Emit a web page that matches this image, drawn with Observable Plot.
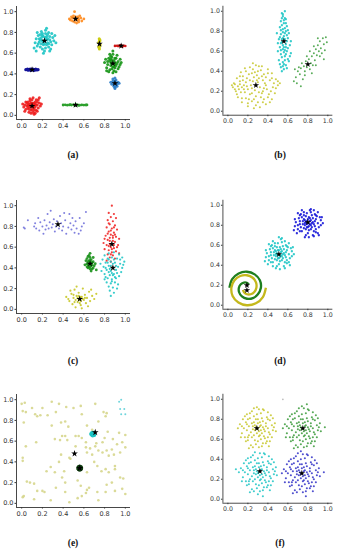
<!DOCTYPE html>
<html><head><meta charset="utf-8">
<script src="https://cdn.jsdelivr.net/npm/d3@7"></script>
<script src="https://cdn.jsdelivr.net/npm/@observablehq/plot@0.6"></script>
<style>
body{margin:0;background:#fff;}
#root{position:relative;width:342px;height:550px;overflow:hidden;background:#fff;}
.p{position:absolute;}
.cap{position:absolute;font-family:"Liberation Serif",serif;font-size:9.5px;font-weight:bold;transform:translate(-50%,-50%);color:#111;white-space:nowrap;}
</style></head><body><div id="root"></div>
<script>
// ---------- tick labels ----------
const tickValues = [0, 0.2, 0.4, 0.6, 0.8, 1.0];
const captions = ["(a)", "(b)", "(c)", "(d)", "(e)", "(f)"];

// ---------- panel (a) ----------
const aRed = [[.10,.09],[.07,.11],[.13,.08],[.09,.05],[.12,.12],[.05,.09],[.15,.10],[.08,.14],[.11,.03],[.04,.06],[.14,.05],[.06,.13],[.17,.12],[.03,.10],[.10,.15],[.12,.07],[.08,.08],[.11,.11],[.09,.12],[.13,.13],[.06,.07],[.16,.07],[.02,.08],[.07,.03],[.14,.15],[.10,.06],[.12,.10],[.08,.11],[.05,.12],[.15,.13],[.09,.02],[.18,.09],[.11,.17],[.04,.13],[.13,.02],[.07,.06],[.10,.12],[.12,.05],[.06,.10],[.16,.15],[.08,.16],[.01,.11],[.19,.11],[.14,.10],[.09,.09],[.11,.08],[.07,.09],[.13,.11],[.15,.04],[.03,.04],[.17,.17],[.12,.01]];
const aCyan = [[.22,.72],[.19,.75],[.25,.70],[.21,.68],[.24,.76],[.17,.71],[.27,.73],[.20,.79],[.23,.65],[.15,.67],[.29,.68],[.18,.78],[.26,.80],[.14,.74],[.30,.75],[.22,.62],[.19,.69],[.24,.73],[.21,.76],[.26,.66],[.16,.77],[.28,.71],[.13,.70],[.23,.82],[.20,.64],[.25,.78],[.18,.66],[.31,.72],[.17,.74],[.27,.76],[.22,.69],[.20,.72],[.24,.68],[.19,.81],[.12,.65],[.28,.64],[.23,.79],[.15,.80],[.32,.77],[.21,.60],[.26,.69],[.18,.73],[.25,.74],[.21,.71],[.29,.79],[.16,.69],[.24,.84],[.33,.70],[.14,.62],[.20,.77],[.27,.62],[.23,.75]];
const aNavy = [[.04,.441],[.055,.445],[.062,.436],[.071,.443],[.083,.447],[.09,.434],[.10,.44],[.108,.446],[.117,.437],[.128,.442],[.136,.446],[.145,.438],[.158,.441],[.095,.443],[.112,.44],[.077,.439],[.124,.435]];
const aOrange = [[.52,.93],[.49,.94],[.55,.92],[.51,.90],[.54,.95],[.47,.92],[.57,.94],[.50,.96],[.53,.89],[.58,.91],[.46,.93],[.56,.96],[.52,.95],[.49,.91],[.55,.90],[.51,.935],[.60,.93],[.48,.95],[.53,.92],[.51,1.00],[.545,.935]];
const aGreenLine = [[.40,.10],[.42,.102],[.44,.098],[.46,.101],[.48,.099],[.50,.103],[.51,.097],[.53,.10],[.54,.102],[.56,.098],[.58,.101],[.60,.099],[.62,.10],[.63,.101],[.47,.104],[.55,.096],[.52,.10]];
const aYellow = [[.75,.69],[.745,.66],[.755,.72],[.75,.64],[.748,.74],[.752,.67],[.743,.70],[.757,.68],[.75,.715],[.746,.655],[.754,.73]];
const aRedSmall = [[.90,.67],[.92,.672],[.93,.668],[.945,.671],[.955,.669],[.965,.673],[.975,.667],[.985,.671],[1.0,.669],[.95,.675],[.97,.665]];
const aGreen = [[.88,.50],[.85,.53],[.91,.48],[.87,.45],[.90,.55],[.83,.49],[.93,.52],[.86,.57],[.89,.43],[.82,.46],[.94,.47],[.84,.55],[.92,.58],[.80,.51],[.95,.54],[.88,.41],[.86,.48],[.90,.51],[.87,.53],[.89,.47],[.85,.44],[.91,.55],[.83,.52],[.93,.45],[.88,.59],[.86,.51],[.90,.46],[.84,.42],[.92,.50],[.87,.56],[.89,.53],[.81,.54],[.95,.49],[.88,.62],[.85,.59],[.91,.42],[.96,.51],[.82,.43],[.88,.47],[.86,.54],[.90,.49],[.87,.50]];
const aSteel = [[.90,.31],[.88,.33],[.92,.30],[.89,.28],[.91,.34],[.87,.30],[.93,.32],[.90,.27],[.88,.35],[.92,.28],[.89,.32],[.91,.29],[.90,.36],[.86,.32],[.94,.31],[.90,.33],[.89,.30],[.91,.31],[.90,.26]];
const aStars = [[.10,.09],[.22,.72],[.10,.44],[.52,.93],[.52,.10],[.75,.69],[.96,.67],[.88,.50],[.90,.31]];

// ---------- panel (b) ----------
const bYellow = [[.28,.26],[.10,.25],[.12,.30],[.08,.20],[.15,.35],[.18,.40],[.22,.44],[.28,.46],[.34,.45],[.40,.42],[.44,.38],[.48,.32],[.50,.26],[.47,.18],[.44,.12],[.38,.07],[.32,.04],[.26,.03],[.20,.05],[.14,.09],[.10,.14],[.07,.22],[.06,.28],[.09,.33],[.13,.39],[.19,.33],[.24,.38],[.30,.40],[.36,.37],[.42,.31],[.45,.24],[.41,.17],[.36,.12],[.30,.09],[.24,.10],[.18,.13],[.13,.19],[.16,.26],[.20,.22],[.25,.30],[.31,.33],[.37,.28],[.39,.22],[.34,.18],[.28,.15],[.22,.17],[.18,.29],[.23,.26],[.27,.21],[.32,.24],[.35,.31],[.29,.36],[.21,.37],[.15,.31],[.11,.22],[.17,.19],[.26,.12],[.33,.14],[.40,.14],[.43,.20],[.46,.28],[.38,.34],[.33,.41],[.25,.42],[.17,.43],[.12,.35],[.07,.27],[.05,.24],[.09,.17],[.14,.13],[.20,.08],[.28,.06],[.35,.09],[.42,.09],[.48,.23],[.40,.38],[.26,.34],[.30,.29],[.24,.23],[.19,.25],[.14,.24],[.31,.19],[.36,.23],[.22,.31],[.27,.39],[.34,.35],[.12,.27],[.16,.22],[.38,.26],[.44,.33],[.50,.30],[.21,.12],[.31,.45],[.24,.18],[.29,.31],[.35,.20],[.04,.26],[.25,.48],[.52,.28]];
const bCyan = [[.56,.70],[.54,.98],[.57,1.00],[.55,.95],[.58,.92],[.53,.90],[.56,.88],[.59,.85],[.52,.84],[.55,.82],[.58,.80],[.61,.78],[.53,.77],[.56,.75],[.60,.73],[.51,.72],[.54,.69],[.58,.67],[.62,.66],[.52,.64],[.55,.62],[.59,.60],[.63,.58],[.53,.57],[.57,.55],[.60,.52],[.51,.51],[.55,.49],[.58,.46],[.53,.44],[.56,.42],[.54,.40],[.57,.93],[.54,.86],[.57,.83],[.55,.79],[.59,.76],[.52,.74],[.57,.72],[.55,.66],[.60,.63],[.50,.60],[.56,.59],[.58,.57],[.54,.54],[.61,.50],[.56,.47],[.52,.47],[.59,.43],[.55,.97],[.56,.91],[.53,.81],[.60,.81],[.57,.78],[.54,.72],[.59,.70],[.56,.64],[.53,.61],[.57,.51],[.55,.45],[.62,.55],[.50,.68],[.58,.88],[.54,.93],[.63,.70],[.49,.78],[.57,.61],[.55,.73],[.58,.64],[.53,.68]];
const bGreen = [[.80,.47],[.66,.30],[.68,.34],[.70,.40],[.72,.37],[.73,.43],[.75,.32],[.76,.45],[.77,.40],[.78,.50],[.79,.44],[.81,.52],[.82,.42],[.83,.48],[.84,.55],[.85,.46],[.86,.58],[.87,.51],[.88,.62],[.89,.56],[.90,.66],[.91,.60],[.92,.70],[.93,.63],[.94,.58],[.95,.73],[.96,.67],[.97,.61],[.98,.74],[.99,.69],[.74,.48],[.71,.44],[.69,.28],[.77,.36],[.84,.38],[.88,.46],[.82,.60],[.86,.65],[.92,.55],[.96,.52],[.79,.55],[.73,.25],[.67,.42],[.90,.73]];
const bStars = [[.28,.26],[.56,.70],[.80,.47]];

// ---------- panel (c) ----------
const cPurple = [[.02,.79],[.03,.78],[.06,.86],[.12,.80],[.14,.78],[.13,.83],[.17,.76],[.18,.84],[.20,.80],[.21,.73],[.22,.86],[.24,.81],[.25,.92],[.26,.78],[.27,.84],[.28,.95],[.29,.79],[.30,.82],[.31,.87],[.32,.75],[.33,.80],[.34,.85],[.35,.82],[.36,.78],[.37,.90],[.38,.83],[.39,.76],[.40,.80],[.42,.86],[.43,.73],[.45,.79],[.46,.92],[.47,.83],[.48,.77],[.50,.81],[.51,.74],[.52,.85],[.53,.78],[.55,.73],[.56,.88],[.58,.80],[.60,.83],[.62,.94],[.49,.88],[.23,.77],[.16,.88],[.41,.93],[.57,.76]];
const cRed = [[.87,1.00],[.84,.93],[.89,.92],[.86,.89],[.91,.88],[.83,.86],[.88,.85],[.85,.82],[.90,.81],[.82,.79],[.87,.78],[.92,.77],[.84,.75],[.89,.74],[.86,.72],[.81,.71],[.91,.70],[.88,.69],[.83,.67],[.85,.66],[.90,.65],[.87,.63],[.82,.62],[.93,.62],[.86,.60],[.89,.59],[.80,.58],[.84,.57],[.91,.56],[.87,.55],[.83,.53],[.88,.52],[.85,.50],[.90,.49],[.82,.47],[.86,.46],[.94,.54],[.79,.64],[.88,.66],[.85,.69],[.90,.72],[.83,.73],[.86,.76],[.89,.79],[.84,.83],[.87,.58],[.92,.60],[.80,.68],[.94,.68],[.86,.53],[.89,.62],[.84,.61],[.88,.71],[.85,.63]];
const cCyan = [[.88,.40],[.80,.52],[.84,.54],[.89,.55],[.94,.53],[.97,.50],[.78,.48],[.83,.49],[.87,.50],[.92,.49],[.99,.46],[.76,.44],[.81,.45],[.86,.46],[.90,.45],[.95,.44],[.79,.41],[.84,.42],[.93,.41],[.97,.40],[.77,.37],[.82,.38],[.86,.37],[.91,.38],[.96,.36],[.80,.34],[.85,.33],[.89,.34],[.94,.32],[.83,.30],[.87,.29],[.91,.30],[.82,.26],[.86,.25],[.90,.26],[.84,.22],[.88,.21],[.85,.18],[.89,.16],[.86,.13],[.93,.24],[.81,.31],[.95,.48],[.88,.44],[.85,.39],[.91,.42],[.87,.35],[.83,.45],[.89,.48],[.92,.35],[.84,.36],[.90,.31],[.87,.27],[.86,.42],[.81,.40],[.98,.43],[.88,.33],[.92,.20],[.80,.29],[.84,.48]];
const cGreen = [[.66,.44],[.64,.46],[.68,.43],[.65,.41],[.67,.48],[.63,.44],[.69,.46],[.66,.50],[.64,.40],[.68,.39],[.62,.47],[.70,.42],[.65,.52],[.67,.37],[.63,.49],[.69,.50],[.66,.47],[.65,.44],[.67,.42],[.64,.43],[.68,.45],[.66,.41],[.61,.43],[.71,.44],[.66,.54],[.72,.38],[.65,.47],[.67,.45],[.63,.41],[.69,.40],[.64,.51],[.66,.39]];
const cYellow = [[.56,.10],[.43,.12],[.46,.08],[.48,.15],[.49,.05],[.50,.11],[.51,.19],[.52,.02],[.53,.13],[.54,.07],[.55,.16],[.57,.04],[.58,.12],[.59,.20],[.60,.09],[.61,.14],[.62,.06],[.63,.11],[.65,.17],[.66,.08],[.68,.13],[.70,.10],[.72,.15],[.52,.09],[.54,.11],[.57,.08],[.55,.13],[.59,.10],[.53,.22],[.47,.18],[.64,.03],[.58,.01],[.50,.14],[.61,.11],[.56,.06],[.45,.10],[.67,.19],[.55,.09],[.57,.12],[.51,.07]];
const cStars = [[.35,.82],[.87,.63],[.88,.40],[.66,.44],[.56,.10]];

// ---------- panel (d) ----------
const dBlue = [[.80,.82],[.77,.85],[.83,.80],[.79,.78],[.82,.87],[.75,.81],[.85,.83],[.78,.89],[.81,.75],[.73,.78],[.87,.79],[.76,.86],[.84,.90],[.72,.84],[.88,.86],[.80,.72],[.74,.74],[.86,.74],[.79,.92],[.83,.93],[.70,.80],[.90,.82],[.77,.80],[.82,.84],[.80,.86],[.78,.83],[.84,.78],[.76,.77],[.81,.79],[.85,.87],[.79,.81],[.83,.85],[.74,.88],[.87,.91],[.71,.87],[.91,.78],[.68,.83],[.93,.85],[.78,.70],[.85,.70],[.76,.93],[.82,.95],[.89,.89],[.73,.91],[.95,.82],[.67,.79],[.81,.68],[.86,.81],[.75,.84],[.80,.78],[.82,.81],[.79,.84],[.77,.82],[.84,.82],[.81,.88],[.78,.76],[.88,.76],[.72,.81],[.90,.72],[.70,.76],[.83,.76],[.87,.84],[.76,.90],[.86,.95],[.92,.88],[.72,.90],[.88,.90],[.72,.74],[.88,.73],[.70,.92],[.90,.93],[.69,.72],[.91,.70],[.74,.95],[.86,.69],[.67,.86],[.93,.80],[.77,.68],[.83,.96],[.66,.75],[.94,.88]];
const dCyan = [[.51,.51],[.48,.54],[.54,.49],[.50,.47],[.53,.56],[.46,.50],[.56,.52],[.49,.58],[.52,.44],[.44,.47],[.58,.48],[.47,.55],[.55,.59],[.43,.53],[.59,.55],[.51,.41],[.45,.43],[.57,.43],[.50,.62],[.54,.63],[.41,.49],[.61,.51],[.48,.49],[.53,.53],[.51,.55],[.49,.52],[.55,.47],[.47,.46],[.52,.48],[.56,.56],[.50,.50],[.54,.54],[.45,.57],[.58,.60],[.42,.56],[.62,.47],[.39,.52],[.64,.54],[.49,.39],[.56,.39],[.47,.62],[.53,.66],[.60,.58],[.44,.60],[.66,.51],[.38,.48],[.52,.36],[.57,.50],[.46,.53],[.51,.47],[.53,.50],[.50,.55],[.48,.51],[.55,.51],[.52,.58],[.49,.45],[.59,.45],[.43,.50],[.61,.43],[.41,.45],[.54,.45],[.58,.53],[.47,.59],[.57,.64],[.63,.57],[.51,.68],[.45,.39],[.43,.59],[.59,.59],[.43,.43],[.59,.42],[.41,.61],[.61,.62],[.40,.41],[.62,.40],[.45,.64],[.57,.37],[.38,.55],[.64,.49],[.48,.37],[.54,.67],[.37,.44],[.65,.58]];
const dSpiralGreen = [[.015,.175],[.043,.26],[.107,.318],[.19,.335],[.268,.309],[.32,.25],[.33,.175],[.30,.11],[.25,.071],[.19,.065],[.14,.088],[.112,.13],[.11,.175],[.129,.21],[.16,.227],[.19,.225],[.21,.21]];
const dSpiralYellow = [[.38,.175],[.35,.082],[.28,.019],[.19,.0],[.105,.028],[.047,.093],[.035,.175],[.064,.248],[.123,.292],[.19,.30],[.248,.275],[.281,.228],[.285,.175],[.264,.133],[.228,.11],[.19,.11],[.163,.127],[.151,.153]];
const dStars = [[.80,.83],[.51,.51],[.19,.20],[.19,.15]];

// ---------- panel (e) ----------
const eNoise = [[.00,.96],[.03,.97],[.01,.89],[.04,.88],[.02,.78],[.13,.86],[.15,.84],[.20,.92],[.29,.98],[.36,.96],[.38,.78],[.43,.93],[.50,.92],[.57,.94],[.58,.86],[.71,.96],[.79,.88],[.81,.84],[.74,.79],[.29,.75],[.42,.79],[.63,.75],[.04,.55],[.14,.59],[.32,.62],[.39,.65],[.42,.65],[.55,.65],[.58,.63],[.62,.59],[.71,.55],[.78,.59],[.82,.51],[.87,.52],[.92,.57],[.95,.49],[.97,.59],[1.0,.54],[.89,.47],[.84,.46],[.78,.49],[.74,.51],[.01,.44],[.01,.41],[.38,.47],[.46,.44],[.47,.43],[.63,.49],[.68,.47],[.28,.35],[.32,.30],[.24,.31],[.41,.31],[.39,.25],[.42,.20],[.54,.22],[.63,.30],[.73,.36],[.77,.31],[.81,.33],[.84,.30],[.90,.33],[.90,.36],[.95,.25],[.98,.24],[.05,.21],[.12,.19],[.01,.06],[.02,.07],[.15,.12],[.20,.12],[.22,.11],[.28,.03],[.46,.01],[.54,.05],[.62,.10],[.63,.13],[.65,.15],[.73,.11],[.74,.03],[.81,.11],[.82,.18],[.90,.12],[1.0,.09],[.97,.14],[.87,.20],[.58,.07],[.57,.17],[.33,.15],[.42,.11],[.62,.54],[.66,.53],[.72,.58],[.52,.55],[.44,.61],[.25,.85],[.33,.88],[.08,.20],[.12,.04],[.36,.40],[.70,.40],[.80,.63],[.88,.62],[.94,.68],[1.0,.66],[.83,.69],[.68,.71],[.52,.65],[.45,.74],[.37,.61],[.18,.85],[.10,.92],[.82,.87]];
const eCyan = [[.68,.67],[.69,.66],[.70,.67],[.69,.68],[.68,.66],[.70,.66],[.67,.67],[.69,.67],[.68,.68],[.70,.68],[.685,.655],[.695,.675]];
const eCyanCorner = [[.94,.98],[.96,1.0],[.95,.91],[.99,.91],[.96,.86],[1.0,.86]];
const eDarkGreen = [[.56,.34],[.55,.35],[.57,.35],[.55,.33],[.57,.33],[.56,.355],[.56,.325],[.545,.34],[.575,.34]];
const eStars = [[.51,.48],[.71,.685],[.56,.34]];

// ---------- panel (f) ----------
const fYellow = [[.30,.71],[.27,.74],[.33,.69],[.29,.66],[.32,.77],[.25,.70],[.35,.72],[.28,.80],[.31,.63],[.23,.67],[.37,.68],[.26,.77],[.34,.81],[.21,.73],[.38,.76],[.30,.58],[.24,.62],[.36,.63],[.29,.85],[.33,.86],[.19,.69],[.40,.71],[.27,.69],[.32,.73],[.30,.76],[.28,.72],[.34,.66],[.26,.64],[.31,.68],[.35,.78],[.29,.70],[.33,.74],[.22,.81],[.39,.82],[.18,.77],[.42,.65],[.16,.71],[.44,.74],[.28,.55],[.35,.56],[.24,.88],[.31,.90],[.40,.87],[.20,.59],[.45,.69],[.14,.66],[.31,.52],[.37,.61],[.25,.73],[.30,.80],[.21,.64],[.26,.83],[.36,.70],[.42,.79],[.17,.62],[.47,.76],[.12,.75],[.23,.54],[.39,.58],[.33,.60],[.27,.59],[.19,.85],[.36,.89],[.44,.62],[.10,.71],[.48,.68],[.29,.92],[.32,.64],[.24,.76],[.38,.73],[.15,.80],[.21,.51],[.41,.53],[.20,.80],[.40,.80],[.20,.62],[.40,.62],[.17,.83],[.43,.84],[.18,.58],[.42,.58],[.22,.86],[.38,.56],[.14,.73],[.46,.72],[.25,.52],[.35,.90],[.13,.62],[.45,.81],[.19,.75],[.41,.67],[.34,.53],[.26,.91]];
const fGreen = [[.75,.71],[.72,.74],[.78,.69],[.74,.66],[.77,.77],[.70,.70],[.80,.72],[.73,.80],[.76,.63],[.68,.67],[.82,.68],[.71,.77],[.79,.81],[.66,.73],[.83,.76],[.75,.58],[.69,.62],[.81,.63],[.74,.85],[.78,.86],[.64,.69],[.85,.71],[.72,.69],[.77,.73],[.75,.76],[.73,.72],[.79,.66],[.71,.64],[.76,.68],[.80,.78],[.74,.70],[.78,.74],[.67,.81],[.84,.82],[.63,.77],[.87,.65],[.61,.71],[.89,.74],[.73,.55],[.80,.56],[.69,.88],[.76,.91],[.85,.87],[.65,.59],[.90,.69],[.59,.66],[.76,.52],[.82,.61],[.70,.73],[.75,.80],[.66,.64],[.71,.83],[.81,.70],[.87,.79],[.62,.62],[.92,.76],[.57,.75],[.68,.54],[.84,.58],[.78,.60],[.72,.59],[.64,.85],[.81,.89],[.89,.62],[.55,.71],[.93,.68],[.74,.93],[.77,.64],[.69,.76],[.83,.73],[.60,.80],[.66,.51],[.86,.53],[.97,.72],[.79,.95],[.65,.80],[.85,.80],[.65,.62],[.85,.62],[.62,.83],[.88,.84],[.63,.58],[.87,.58],[.67,.86],[.83,.56],[.59,.73],[.91,.72],[.70,.52],[.80,.90],[.58,.62],[.90,.81],[.64,.75],[.86,.67],[.79,.53],[.71,.91]];
const fCyan = [[.31,.27],[.28,.30],[.34,.25],[.30,.22],[.33,.33],[.26,.26],[.36,.28],[.29,.36],[.32,.19],[.24,.23],[.38,.24],[.27,.33],[.35,.37],[.22,.29],[.39,.32],[.31,.14],[.25,.18],[.37,.19],[.30,.41],[.34,.42],[.20,.25],[.41,.27],[.28,.25],[.33,.29],[.31,.32],[.29,.28],[.35,.22],[.27,.20],[.32,.24],[.36,.34],[.30,.26],[.34,.30],[.23,.37],[.40,.38],[.19,.33],[.43,.21],[.17,.27],[.45,.30],[.29,.11],[.36,.12],[.25,.44],[.32,.46],[.41,.43],[.21,.15],[.46,.25],[.15,.22],[.32,.08],[.38,.17],[.26,.29],[.31,.36],[.22,.20],[.27,.39],[.37,.26],[.43,.35],[.18,.18],[.48,.32],[.13,.31],[.24,.10],[.40,.14],[.34,.16],[.28,.15],[.20,.41],[.37,.45],[.45,.18],[.11,.27],[.49,.24],[.30,.05],[.33,.20],[.25,.32],[.39,.29],[.16,.36],[.22,.07],[.42,.09],[.08,.30],[.35,.03],[.21,.36],[.41,.36],[.21,.18],[.41,.18],[.18,.39],[.44,.40],[.19,.14],[.43,.14],[.23,.42],[.39,.12],[.15,.29],[.47,.28],[.26,.08],[.36,.46],[.14,.18],[.46,.37],[.20,.31],[.42,.23],[.35,.09],[.27,.47]];
const fBlue = [[.74,.26],[.71,.29],[.77,.24],[.73,.21],[.76,.32],[.69,.25],[.79,.27],[.72,.35],[.75,.18],[.67,.22],[.81,.23],[.70,.32],[.78,.36],[.65,.28],[.82,.31],[.74,.13],[.68,.17],[.80,.18],[.73,.40],[.77,.41],[.63,.24],[.84,.26],[.71,.24],[.76,.28],[.74,.31],[.72,.27],[.78,.21],[.70,.19],[.75,.23],[.79,.33],[.73,.25],[.77,.29],[.66,.36],[.83,.37],[.62,.32],[.86,.20],[.60,.26],[.88,.29],[.72,.10],[.79,.11],[.68,.43],[.75,.45],[.84,.42],[.64,.14],[.89,.24],[.58,.21],[.75,.07],[.81,.16],[.69,.28],[.74,.35],[.65,.19],[.70,.38],[.80,.25],[.86,.34],[.61,.17],[.91,.31],[.56,.30],[.67,.09],[.83,.13],[.77,.15],[.71,.14],[.63,.40],[.80,.44],[.88,.17],[.54,.26],[.92,.23],[.73,.48],[.76,.19],[.68,.31],[.82,.28],[.59,.35],[.65,.06],[.85,.08],[.96,.27],[.78,.03],[.64,.35],[.84,.35],[.64,.17],[.84,.17],[.61,.38],[.87,.39],[.62,.13],[.86,.13],[.66,.41],[.82,.11],[.58,.28],[.90,.27],[.69,.07],[.79,.45],[.57,.17],[.89,.36],[.63,.30],[.85,.22],[.78,.08],[.70,.46]];
const fOutlier = [[.55,1.0]];
const fStars = [[.29,.71],[.75,.71],[.32,.28],[.74,.26]];

// ---------- drawing ----------
const root = document.getElementById("root");
const X = d => d[0], Y = d => d[1];

function panel(layers, stars, left, top, lines = []) {
  const marks = [];
  for (const [pts, stroke, w] of lines) {
    marks.push(Plot.line(pts, {x: X, y: Y, stroke, strokeWidth: w, curve: "catmull-rom", strokeLinecap: "butt"}));
  }
  for (const [pts, fill, r, op] of layers) {
    marks.push(Plot.dot(pts, {x: X, y: Y, r, fill, fillOpacity: op ?? 0.9, stroke: "none"}));
  }
  marks.push(Plot.dot(stars, {x: X, y: Y, symbol: "star", r: 2.1, fill: "#000", stroke: "none"}));
  marks.push(Plot.axisX({ticks: tickValues, tickFormat: d3.format(".1f"), tickSize: 1.5, tickPadding: 2, fontSize: 6.5, label: null, fill: "#333", stroke: "#333"}));
  marks.push(Plot.axisY({ticks: tickValues, tickFormat: d3.format(".1f"), tickSize: 1.5, tickPadding: 1.5, fontSize: 6.5, label: null, fill: "#333", stroke: "#333"}));
  marks.push(Plot.ruleX([-0.05], {stroke: "#333", strokeWidth: 0.9}));
  marks.push(Plot.ruleY([-0.04], {stroke: "#333", strokeWidth: 0.9}));
  const chart = Plot.plot({
    width: 140, height: 140,
    marginLeft: 16, marginRight: 10, marginTop: 6, marginBottom: 21,
    x: {domain: [-0.05, 1.05], axis: null},
    y: {domain: [-0.04, 1.05], axis: null},
    style: {fontFamily: "'DejaVu Sans', sans-serif", fontSize: "6.5px", color: "#333", background: "transparent", overflow: "visible"},
    marks
  });
  const div = document.createElement("div");
  div.className = "p";
  div.style.left = left + "px";
  div.style.top = top + "px";
  div.appendChild(chart);
  root.appendChild(div);
}

function caption(text, cx, cy) {
  const d = document.createElement("div");
  d.className = "cap";
  d.textContent = text;
  d.style.left = cx + "px";
  d.style.top = cy + "px";
  root.appendChild(d);
}

// (a)
panel([
  [aRed, "#ee1c1c", 1.5],
  [aCyan, "#1cc4c4", 1.5],
  [aNavy, "#12129a", 1.6, 1],
  [aOrange, "#ff8a1c", 1.4],
  [aGreenLine, "#2ca02c", 1.4, 1],
  [aYellow, "#cccc10", 1.5, 1],
  [aRedSmall, "#d01818", 1.3, 1],
  [aGreen, "#149414", 1.5],
  [aSteel, "#2a7cc8", 1.5]
], aStars, 0, 0);

// (b)
panel([
  [bYellow, "#c8c830", 1.1, 0.85],
  [bCyan, "#22c6c6", 1.2, 0.9],
  [bGreen, "#3c9e3c", 1.0, 0.85]
], bStars, 207, 0);

// (c)
panel([
  [cPurple, "#6a6ad8", 1.0, 0.85],
  [cRed, "#f02828", 1.1, 0.9],
  [cCyan, "#22c6c6", 1.1, 0.9],
  [cGreen, "#189018", 1.4],
  [cYellow, "#c8c828", 1.1, 0.9]
], cStars, 0, 194);

// (d)
panel([
  [dBlue, "#1818d8", 1.2, 0.9],
  [dCyan, "#22c6c6", 1.2, 0.9]
], dStars, 207, 194, [
  [dSpiralGreen, "#1f7f1f", 2.4],
  [dSpiralYellow, "#c4b81c", 2.4]
]);

// (e)
panel([
  [eNoise, "#d6d68c", 1.3, 0.9],
  [eCyanCorner, "#5fd0d8", 1.0, 0.9],
  [eCyan, "#1cc4c4", 2.0, 1],
  [eDarkGreen, "#0c3a0c", 2.0, 1]
], eStars, 0, 388);

// (f)
panel([
  [fYellow, "#c8c830", 1.1, 0.85],
  [fGreen, "#3c9b3c", 1.1, 0.85],
  [fCyan, "#22c6c6", 1.1, 0.85],
  [fBlue, "#3434c8", 1.1, 0.85],
  [fOutlier, "#aaaaaa", 0.9, 0.8]
], fStars, 207, 388);

caption(captions[0], 73, 155);
caption(captions[1], 280, 155);
caption(captions[2], 73, 361);
caption(captions[3], 280, 361);
caption(captions[4], 73, 543);
caption(captions[5], 280, 543);
</script>
</body></html>
